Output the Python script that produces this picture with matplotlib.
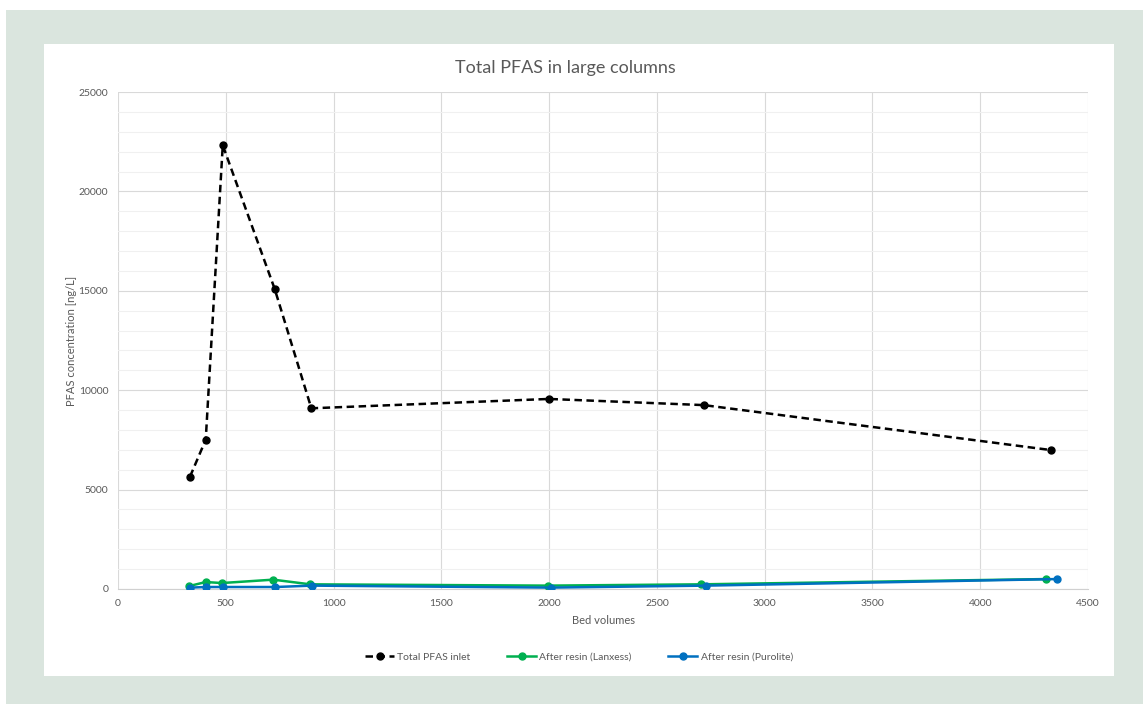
import matplotlib
matplotlib.use("Agg")
from matplotlib import pyplot as plt
from matplotlib.patches import Rectangle
from matplotlib.ticker import MultipleLocator

plt.rcParams['font.family'] = ['Lato', 'DejaVu Sans']

# data
inlet_bv = [334, 407, 486, 727, 897, 1999, 2718, 4327]
inlet_conc = [5650, 7510, 22320, 15090, 9090, 9560, 9250, 6990]

lanxess_bv = [331, 407, 482, 720, 892, 1993, 2705, 4304]
lanxess_conc = [150, 350, 300, 470, 235, 170, 235, 500]

purolite_bv = [334, 408, 488, 730, 900, 2007, 2730, 4355]
purolite_conc = [70, 100, 100, 100, 170, 70, 170, 500]

W, H = 1143, 704
fig = plt.figure(figsize=(W / 100, H / 100), dpi=100)
fig.patch.set_facecolor('white')

# green frame and white chart area, in pixel units
fig.patches.append(Rectangle((6 / W, 0), 1 - 6 / W, 1 - 10 / H, transform=fig.transFigure,
                             facecolor='#dae5de', edgecolor='none', zorder=-2))
fig.patches.append(Rectangle((44 / W, 1 - 676 / H), (1114 - 44) / W, (676 - 44) / H,
                             transform=fig.transFigure, facecolor='white',
                             edgecolor='none', zorder=-1))

ax = fig.add_axes([118 / W, 1 - 589 / H, (1088 - 118) / W, (589 - 92) / H])
ax.set_facecolor('none')
ax.set_zorder(1)

txt = '#595959'

ax.plot(inlet_bv, inlet_conc, color='black', linestyle=(0, (3, 1.8)), linewidth=1.8,
        marker='o', markersize=5, label='Total PFAS inlet', zorder=3)
ax.plot(lanxess_bv, lanxess_conc, color='#00b050', linewidth=1.8,
        marker='o', markersize=5, label='After resin (Lanxess)', zorder=3)
ax.plot(purolite_bv, purolite_conc, color='#0070c0', linewidth=1.8,
        marker='o', markersize=5, label='After resin (Purolite)', zorder=4)

ax.set_xlim(0, 4500)
ax.set_ylim(0, 25000)
ax.xaxis.set_major_locator(MultipleLocator(500))
ax.yaxis.set_major_locator(MultipleLocator(5000))
ax.yaxis.set_minor_locator(MultipleLocator(1000))

ax.grid(which='major', color='#d9d9d9', linewidth=0.8)
ax.grid(which='minor', axis='y', color='#f0f0f0', linewidth=0.8)
ax.set_axisbelow(True)

for s in ['top', 'right', 'left']:
    ax.spines[s].set_visible(False)
ax.spines['bottom'].set_color('#d0d0d0')

ax.tick_params(which='both', length=0, labelsize=7.5, colors=txt, pad=7)

ax.set_title('Total PFAS in large columns', fontsize=13, color=txt,
             x=(565 - 118) / (1088 - 118), pad=14)
ax.set_xlabel('Bed volumes', fontsize=8, color=txt, labelpad=5)
ax.set_ylabel('PFAS concentration [ng/L]', fontsize=8, color=txt)
ax.yaxis.set_label_coords((77 - 118) / (1088 - 118), 0.5)

leg = ax.legend(loc='center',
                bbox_to_anchor=((579 - 118) / (1088 - 118), (589 - 657) / (589 - 92)),
                ncol=3, frameon=False, fontsize=7.5, columnspacing=3.5,
                handlelength=2.8, handletextpad=0.3)
for t in leg.get_texts():
    t.set_color(txt)

fig.savefig('out.png', dpi=100)
